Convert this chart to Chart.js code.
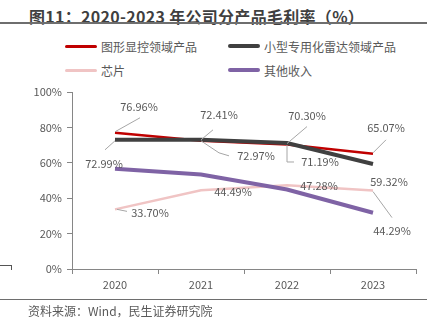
<!DOCTYPE html>
<html><head><meta charset="utf-8">
<script src="https://cdn.jsdelivr.net/npm/chart.js@4.4.1/dist/chart.umd.min.js"></script>
<style>
html,body{margin:0;padding:0;background:#fff;}
#wrap{position:relative;width:440px;height:335px;overflow:hidden;font-family:"Noto Sans CJK SC","Noto Sans",sans-serif;}
#title{position:absolute;left:29px;top:4px;font-size:16px;font-weight:bold;color:#3f3f3f;white-space:nowrap;letter-spacing:0.3px;}
.hr{position:absolute;left:0;width:427px;height:1.5px;background:#6e6e6e;}
.leg{position:absolute;font-size:12px;color:#595959;white-space:nowrap;display:flex;align-items:center;height:16px;}
.leg i{display:inline-block;width:32px;margin-right:4px;border-radius:2px;}
#src{position:absolute;left:28px;top:302px;font-size:12px;color:#595959;white-space:nowrap;}
#mark{position:absolute;left:0;top:265px;width:11px;height:4px;border-top:1px solid #555;border-right:1px solid #555;}
canvas{position:absolute;left:0;top:0;}
</style></head>
<body>
<div id="wrap">
  <div id="title">图11：2020-2023 年公司分产品毛利率（%）</div>
  <div class="hr" style="top:22px"></div>
  <div class="leg" style="left:65px;top:38px"><i style="height:3px;background:#C00000"></i>图形显控领域产品</div>
  <div class="leg" style="left:228px;top:38px"><i style="height:4px;background:#404040"></i>小型专用化雷达领域产品</div>
  <div class="leg" style="left:65px;top:62px"><i style="height:3px;background:#F0C4C4"></i>芯片</div>
  <div class="leg" style="left:228px;top:62px"><i style="height:4px;background:#7F63A5"></i>其他收入</div>
  <canvas id="c" width="440" height="335"></canvas>
  <div id="mark"></div>
  <div class="hr" style="top:298.5px"></div>
  <div id="src">资料来源：Wind，民生证券研究院</div>
</div>
<script>
const categories = ['2020','2021','2022','2023'];
const graphicsDisplay = [76.96, 72.41, 70.30, 65.07];
const smallRadar = [72.99, 72.97, 71.19, 59.32];
const chips = [33.70, 44.49, 47.28, 44.29];
const otherIncome = [56.7, 53.4, 44.9, 31.8];
const yTicks = [0, 20, 40, 60, 80, 100];

// label placement relative to each point (style only)
const redPos = [
  {dx:24, dy:-26, leader:[[0,-1],[25,-15]]},
  {dx:18, dy:-26, leader:[[0,-1],[12,-11]]},
  {dx:20, dy:-29, leader:[[0,-1],[20,-18]]},
  {dx:13, dy:-26, leader:[[0,-1],[13,-14]]}
];
const grayPos = [
  {dx:-11, dy:24, leader:[[0,1],[-10,10]]},
  {dx:55, dy:16, leader:[[0,1],[18,13],[28,16]]},
  {dx:33, dy:19, leader:[[0,2],[0,19],[7,19]]},
  {dx:16, dy:18}
];
const pinkPos = [
  {dx:35, dy:3, leader:[[2,0],[12,2]]},
  {dx:32, dy:1.5},
  {dx:32, dy:0},
  {dx:19, dy:40, leader:[[0,1],[19,27]]}
];

const labelPlugin = {
  id:'dlabels',
  afterDatasetsDraw(chart){
    const ctx = chart.ctx;
    ctx.save();
    ctx.font = '11px "Noto Sans CJK SC", "Noto Sans", sans-serif';
    ctx.fillStyle = '#595959';
    ctx.textAlign = 'center';
    ctx.textBaseline = 'middle';
    chart.data.datasets.forEach((ds,i)=>{
      if(!ds.labelPos) return;
      const meta = chart.getDatasetMeta(i);
      meta.data.forEach((pt,j)=>{
        const p = ds.labelPos[j]; if(!p) return;
        if(p.leader){
          ctx.beginPath();
          ctx.strokeStyle = '#a6a6a6';
          ctx.lineWidth = 1;
          p.leader.forEach((q,k)=>{ if(k===0) ctx.moveTo(pt.x+q[0], pt.y+q[1]); else ctx.lineTo(pt.x+q[0], pt.y+q[1]); });
          ctx.stroke();
        }
        ctx.fillText(ds.data[j].toFixed(2)+'%', pt.x+p.dx, pt.y+p.dy);
      });
    });
    ctx.restore();
  }
};

new Chart(document.getElementById('c'), {
  type:'line',
  data:{
    labels: categories,
    datasets:[
      {label:'图形显控领域产品', data:graphicsDisplay, borderColor:'#C00000', borderWidth:2.5, order:2, labelPos:redPos},
      {label:'小型专用化雷达领域产品', data:smallRadar, borderColor:'#404040', borderWidth:4, order:0, labelPos:grayPos},
      {label:'芯片', data:chips, borderColor:'#F0C4C4', borderWidth:2.5, order:3, labelPos:pinkPos},
      {label:'其他收入', data:otherIncome, borderColor:'#7F63A5', borderWidth:4, order:1}
    ]
  },
  options:{
    responsive:false,
    animation:false,
    events:[],
    elements:{point:{radius:0}, line:{tension:0, borderCapStyle:'butt'}},
    layout:{padding:{left:0, right:24, top:92, bottom:36}},
    plugins:{legend:{display:false}, tooltip:{enabled:false}},
    scales:{
      x:{
        offset:true,
        grid:{offset:true, drawOnChartArea:false, drawTicks:true, tickLength:5, color:'#868686'},
        border:{display:true, color:'#868686', width:1},
        ticks:{color:'#595959', font:{size:11, family:'"Noto Sans CJK SC", "Noto Sans", sans-serif'}, padding:4, maxRotation:0},
        afterFit(s){ s.height = 30; }
      },
      y:{
        min:0, max:100,
        afterBuildTicks(s){ s.ticks = yTicks.map(v=>({value:v})); },
        grid:{drawOnChartArea:false, drawTicks:true, tickLength:5, color:'#868686'},
        border:{display:true, color:'#868686', width:1},
        ticks:{color:'#595959', font:{size:11, family:'"Noto Sans CJK SC", "Noto Sans", sans-serif'}, padding:5, callback:v=>v+'%'},
        afterFit(s){ s.width = 72; }
      }
    }
  },
  plugins:[labelPlugin]
});
</script>
</body></html>
